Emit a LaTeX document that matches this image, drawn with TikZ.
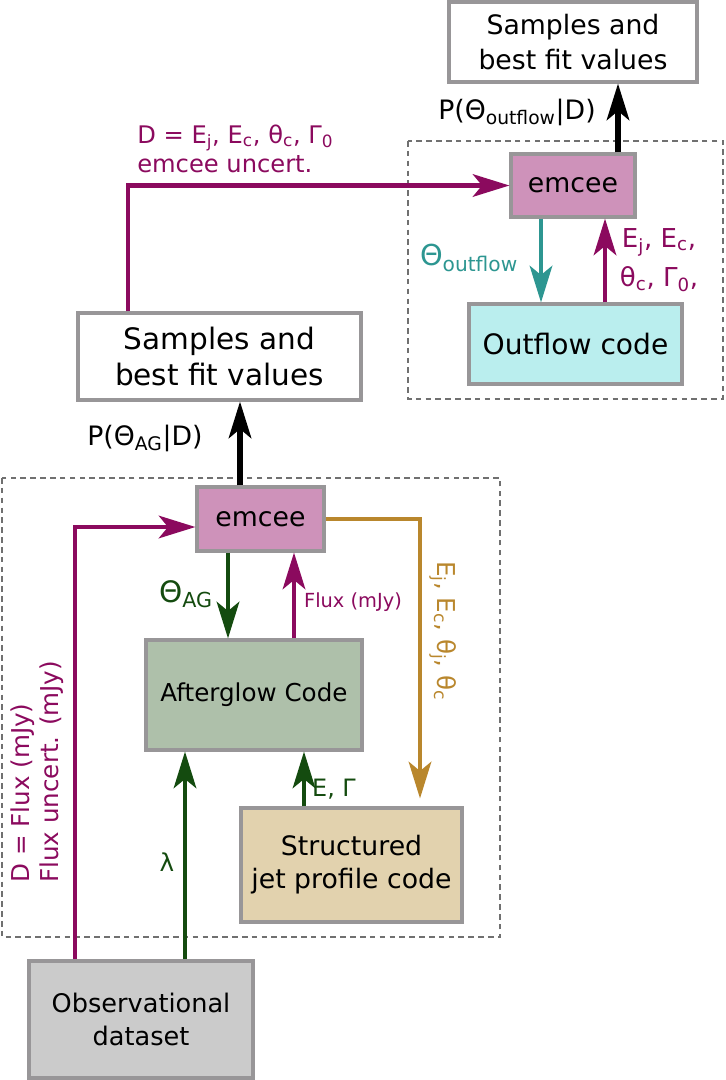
\documentclass[tikz,border=0pt]{standalone}
\usepackage{fontspec}
\setmainfont{DejaVu Sans}
\usetikzlibrary{arrows.meta,calc}

\definecolor{fluxpurple}{RGB}{139,10,94}
\definecolor{aggreen}{RGB}{20,75,15}
\definecolor{outteal}{RGB}{45,150,145}
\definecolor{jetgold}{RGB}{185,135,45}
\definecolor{emceefill}{RGB}{206,146,186}
\definecolor{outfill}{RGB}{186,238,238}
\definecolor{agfill}{RGB}{174,192,170}
\definecolor{jetfill}{RGB}{226,210,174}
\definecolor{obsfill}{RGB}{203,203,203}
\definecolor{boxgray}{RGB}{152,150,152}
\definecolor{dashgray}{RGB}{112,112,112}

\tikzset{
  codebox/.style={
    draw=boxgray, line width=2.2pt,
    align=center, inner sep=0,
    font=\fontsize{19}{25}\selectfont
  },
  resbox/.style={codebox, fill=white},
  emceebox/.style={codebox, fill=emceefill},
  dashbox/.style={draw=dashgray, line width=1.1pt, dash pattern=on 4pt off 3pt},
  flow/.style={
    line width=3.2pt,
    -{Stealth[length=26pt, width=16pt, inset=6.5pt]}
  },
  lbl/.style={inner sep=0, font=\fontsize{19}{24}\selectfont}
}

\begin{document}
\begin{tikzpicture}[x=0.025cm, y=-0.025cm]
\useasboundingbox (0,0) rectangle (725,1080);

%%%%%%%%% dashed frames
\draw[dashbox] (408,141) rectangle (723,399);
\draw[dashbox] (2,478) rectangle (500,937);

%%%%%%%%% outflow fit (top)
\node[resbox, minimum width=6.2cm, minimum height=2cm] (resout) at (573,42) {Samples and\\best fit values};
\node[emceebox, minimum width=3.1cm, minimum height=1.575cm] (emceeout) at (573,185.5) {emcee};
\node[codebox, fill=outfill, minimum width=5.325cm, minimum height=2cm,
      font=\fontsize{20}{25}\selectfont] (outflow) at (575.5,344) {Outflow code};

%%%%%%%%% afterglow fit (bottom)
\node[resbox, minimum width=7.075cm, minimum height=2.175cm,
      font=\fontsize{21}{26}\selectfont] (resag) at (219.5,356.5) {Samples and\\best fit values};
\node[emceebox, minimum width=3.175cm, minimum height=1.6cm] (emceeag) at (260.5,519) {emcee};
\node[codebox, fill=agfill, minimum width=5.4cm, minimum height=2.75cm,
      font=\fontsize{17.5}{22}\selectfont] (afterglow) at (254,695) {Afterglow Code};
\node[codebox, fill=jetfill, minimum width=5.525cm, minimum height=2.85cm,
      font=\fontsize{19}{23.5}\selectfont] (jetprof) at (351.5,865) {Structured\\jet profile code};
\node[codebox, fill=obsfill, minimum width=5.6cm, minimum height=2.925cm,
      font=\fontsize{18.2}{24}\selectfont] (obsdata) at (141,1019.5) {Observational\\dataset};

%%%%%%%%% connectors, top
\coordinate (postout) at ($(emceeout.north)+(45,0)$);
\draw[flow, black, line width=3.8pt] (postout) -- (postout |- resout.south);
\coordinate (thout) at ($(emceeout.south)+(-32,0)$);
\draw[flow, outteal] (thout) -- (thout |- outflow.north);
\coordinate (parout) at ($(outflow.north)+(29.5,0)$);
\draw[flow, fluxpurple] (parout) -- (parout |- emceeout.south);
\coordinate (dataout) at ($(resag.north)+(-91.5,0)$);
\draw[flow, fluxpurple] (dataout) |- (emceeout.west);

%%%%%%%%% connectors, bottom
\coordinate (postag) at ($(emceeag.north)+(-20.5,0)$);
\draw[flow, black, line width=3.8pt] (postag) -- (postag |- resag.south);
\coordinate (thag) at ($(emceeag.south)+(-32.5,0)$);
\draw[flow, aggreen] (thag) -- (thag |- afterglow.north);
\coordinate (fluxag) at ($(afterglow.north)+(40,0)$);
\draw[flow, fluxpurple] (fluxag) -- (fluxag |- emceeag.south);
\draw[flow, jetgold, shorten >=0.2cm] (emceeag.east) -| ($(jetprof.north)+(68.5,0)$);
\coordinate (dataag) at ($(obsdata.north)+(-66,0)$);
\draw[flow, fluxpurple] (dataag) |- ($(emceeag.west)+(0,8)$);
\coordinate (lamag) at ($(obsdata.north)+(44,0)$);
\draw[flow, aggreen] (lamag) -- (lamag |- afterglow.south);
\coordinate (egag) at ($(jetprof.north)+(-47.5,0)$);
\draw[flow, aggreen] (egag) -- (egag |- afterglow.south);

%%%%%%%%% labels
\node[lbl] (lpout) at (517,112) {P(Θ\textsubscript{outflow}|D)};
\node[lbl, outteal, font=\fontsize{20.5}{24}\selectfont] (lthout) at (469,258) {Θ\textsubscript{outflow}};
\node[lbl, fluxpurple, align=center, font=\fontsize{18.5}{28}\selectfont] (lparout) at (659,260)
  {E\textsubscript{j}, E\textsubscript{c},\\ θ\textsubscript{c}, Γ\textsubscript{0},};
\node[lbl, fluxpurple, anchor=west, align=left, font=\fontsize{17.2}{21}\selectfont] (ldataout) at (137,149)
  {D = E\textsubscript{j}, E\textsubscript{c}, θ\textsubscript{c}, Γ\textsubscript{0}\\emcee uncert.};
\node[lbl] (lpag) at (145,438) {P(Θ\textsubscript{AG}|D)};
\node[lbl, aggreen, font=\fontsize{21}{24}\selectfont] (lthag) at (186,594) {Θ\textsubscript{AG}};
\node[lbl, fluxpurple, font=\fontsize{13.8}{16}\selectfont] (lfluxag) at (353,602) {Flux (mJy)};
\node[lbl, jetgold, rotate=-90, font=\fontsize{17.5}{20}\selectfont] (ljet) at (443,631)
  {E\textsubscript{j}, E\textsubscript{c}, θ\textsubscript{j}, θ\textsubscript{c}};
\node[lbl, fluxpurple, rotate=90, anchor=west, align=left, font=\fontsize{17.5}{21}\selectfont] (ldataag) at (37,883)
  {D = Flux (mJy)\\Flux uncert. (mJy)};
\node[lbl, aggreen, font=\fontsize{17.5}{20}\selectfont] (llam) at (167,862) {λ};
\node[lbl, aggreen, font=\fontsize{17}{20}\selectfont] (legam) at (334,789) {E, Γ};

\end{tikzpicture}
\end{document}
